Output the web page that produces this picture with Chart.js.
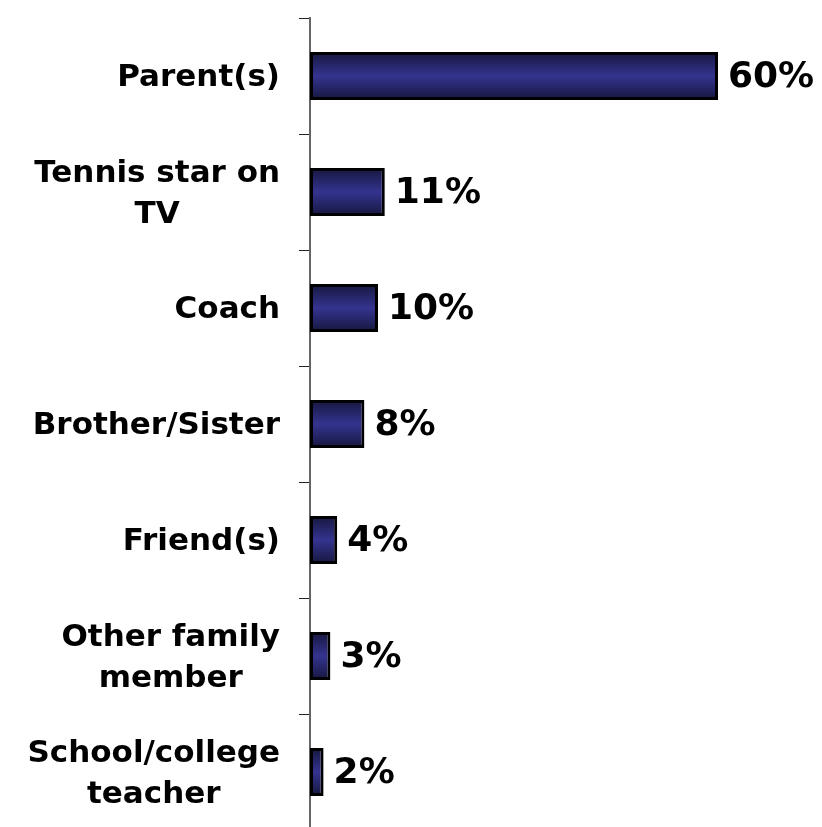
<!DOCTYPE html>
<html>
<head>
<meta charset="utf-8">
<script src="https://cdn.jsdelivr.net/npm/chart.js@4/dist/chart.umd.min.js"></script>
<style>
	html, body { margin: 0; padding: 0; background: #fff; overflow: hidden; }
	#wrap { width: 822px; height: 840px; }
</style>
</head>
<body>
<div id="wrap"><canvas id="chart" width="822" height="840"></canvas></div>
<script>
const categories = [
	"Parent(s)",
	["Tennis star on", "TV"],
	"Coach",
	"Brother/Sister",
	"Friend(s)",
	["Other family", "member"],
	["School/college", "teacher"],
];
const shares = [60, 11, 10, 8, 4, 3, 2];

const FONT = "'DejaVu Sans', Verdana, sans-serif";

function barGradient(context) {
	const chart = context.chart;
	const y = chart.scales.y;
	if (!chart.chartArea || !y) return "#33338c";
	const meta = chart.getDatasetMeta(context.datasetIndex);
	const bar = meta.data[context.dataIndex];
	const center = y.getPixelForValue(context.dataIndex);
	const half = bar && bar.height ? bar.height / 2 : 24;
	const g = chart.ctx.createLinearGradient(0, center - half, 0, center + half);
	g.addColorStop(0, "#16163f");
	g.addColorStop(0.5, "#34348f");
	g.addColorStop(1, "#16163f");
	return g;
}

// category labels: block right-aligned to the axis, lines centred inside the block
const categoryLabels = {
	id: "categoryLabels",
	afterDraw(chart) {
		const ctx = chart.ctx;
		const y = chart.scales.y;
		const right = y.right - 30;
		const lh = 41;
		ctx.save();
		ctx.font = "bold 31px " + FONT;
		ctx.fillStyle = "#000";
		ctx.textAlign = "center";
		ctx.textBaseline = "middle";
		categories.forEach((label, i) => {
			const lines = Array.isArray(label) ? label : [label];
			const w = Math.max(...lines.map((l) => ctx.measureText(l).width));
			const cx = right - w / 2;
			const cy = y.getPixelForValue(i) + 2;
			const top = cy - ((lines.length - 1) * lh) / 2;
			lines.forEach((l, j) => ctx.fillText(l, cx, top + j * lh));
		});
		ctx.restore();
	},
};

const valueLabels = {
	id: "valueLabels",
	afterDatasetsDraw(chart) {
		const ctx = chart.ctx;
		const meta = chart.getDatasetMeta(0);
		ctx.save();
		ctx.font = "bold 36px " + FONT;
		ctx.fillStyle = "#000";
		ctx.textAlign = "left";
		ctx.textBaseline = "middle";
		meta.data.forEach((bar, i) => {
			ctx.fillText(shares[i] + "%", bar.x + 10, bar.y + 2);
		});
		ctx.restore();
	},
};

new Chart(document.getElementById("chart"), {
	type: "bar",
	data: {
		labels: categories,
		datasets: [
			{
				data: shares,
				backgroundColor: barGradient,
				borderColor: "#000",
				borderWidth: 3,
				borderSkipped: false,
				categoryPercentage: 1,
				barPercentage: 0.415,
			},
		],
	},
	plugins: [valueLabels, categoryLabels],
	options: {
		indexAxis: "y",
		responsive: false,
		animation: false,
		layout: { padding: { top: 18, bottom: 10, right: 36, left: 0 } },
		plugins: {
			legend: { display: false },
			tooltip: { enabled: false },
		},
		scales: {
			x: {
				display: false,
				min: 0,
				max: 70,
			},
			y: {
				afterFit: (scale) => {
					scale.width = 310;
					scale.paddingTop = 0;
					scale.paddingBottom = 0;
				},
				grid: {
					offset: true,
					drawOnChartArea: false,
					tickLength: 11,
					tickColor: "#222",
					tickWidth: 1,
				},
				border: { display: true, color: "#666", width: 2 },
				ticks: { display: false },
			},
		},
	},
});
</script>
</body>
</html>
